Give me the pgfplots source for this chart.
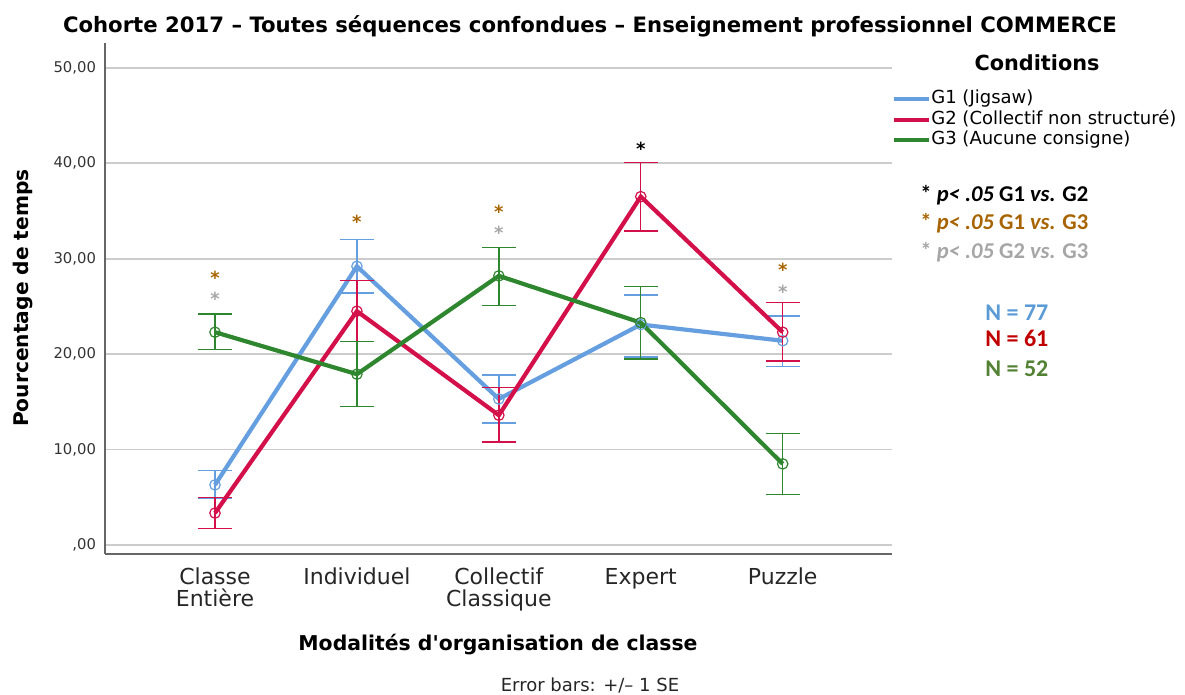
\documentclass[border=0pt]{standalone}
\usepackage{fontspec}
\setmainfont{DejaVu Sans}
\newfontfamily\calib{Carlito}
\usepackage{pgfplots}
\pgfplotsset{compat=1.18}

\definecolor{gone}{HTML}{659FDF}
\definecolor{gtwo}{HTML}{D3104A}
\definecolor{gthree}{HTML}{2E862E}
\definecolor{starorange}{HTML}{A86400}
\definecolor{stargray}{HTML}{A6A6A6}
\definecolor{nblue}{HTML}{5B9BD5}
\definecolor{nred}{HTML}{C00000}
\definecolor{ngreen}{HTML}{548235}

\pgfplotsset{
  grp/.style={
    #1, line width=2.1pt, mark=o, mark size=2.6pt,
    mark options={solid, line width=0.6pt, #1},
    error bars/.cd, y dir=both, y explicit,
    error bar style={line width=0.7pt, #1},
    error mark options={rotate=90, mark size=8.5pt, line width=0.7pt, #1},
    /pgfplots/.cd,
  },
}

\begin{document}
\begin{tikzpicture}
\path[use as bounding box] (0,0) rectangle (592.5pt,347.5pt);
\begin{axis}[
  at={(52.5pt,70.5pt)}, anchor=south west,
  width=393.5pt, height=255.5pt, scale only axis,
  xmin=0.225, xmax=5.77, ymin=-0.94, ymax=52.6,
  axis x line*=bottom, axis y line*=left,
  axis line style={draw=black!60, line width=0.6pt, -},
  xtick={1,2,3,4,5},
  xticklabels={{Classe\\Entière},Individuel,{Collectif\\Classique},Expert,Puzzle},
  xticklabel style={font=\fontsize{11}{11}\selectfont, align=center, text=black!85, yshift=-3.5pt},
  ytick={0,10,20,30,40,50},
  yticklabels={{,00},{10,00},{20,00},{30,00},{40,00},{50,00}},
  yticklabel style={font=\fontsize{7.4}{8}\selectfont, text=black!80, xshift=-1pt},
  major tick length=0pt,
  ymajorgrids, grid style={draw=black!20, line width=0.9pt},
  clip=false,
  legend style={at={(1.0,0.908)}, anchor=north west, draw=none, fill=none,
    font=\fontsize{9}{9}\selectfont, row sep=1.25pt, inner sep=0pt,
    nodes={inner xsep=0pt, inner ysep=0pt, text height=6.8pt, text depth=2.2pt}},
  legend cell align=left,
]
\addlegendimage{legend image code/.code={\draw[gone, line width=2pt] (0pt,0pt) -- (17.5pt,0pt);}}
\addlegendentry{G1 (Jigsaw)}
\addlegendimage{legend image code/.code={\draw[gtwo, line width=2pt] (0pt,0pt) -- (17.5pt,0pt);}}
\addlegendentry{G2 (Collectif non structuré)}
\addlegendimage{legend image code/.code={\draw[gthree, line width=2pt] (0pt,0pt) -- (17.5pt,0pt);}}
\addlegendentry{G3 (Aucune consigne)}

% G1 (Jigsaw)
\addplot[forget plot, grp=gone] coordinates {
  (1,6.3)  += (0,1.5) -= (0,1.45)
  (2,29.2) += (0,2.8) -= (0,2.8)
  (3,15.3) += (0,2.5) -= (0,2.5)
  (4,23.1) += (0,3.1) -= (0,3.4)
  (5,21.4) += (0,2.6) -= (0,2.7)
};
% G2 (Collectif non structure)
\addplot[forget plot, grp=gtwo] coordinates {
  (1,3.35) += (0,1.65) -= (0,1.65)
  (2,24.5) += (0,3.2) -= (0,3.2)
  (3,13.6) += (0,2.9) -= (0,2.8)
  (4,36.5) += (0,3.6) -= (0,3.6)
  (5,22.3) += (0,3.1) -= (0,3.0)
};
% G3 (Aucune consigne)
\addplot[forget plot, grp=gthree] coordinates {
  (1,22.3) += (0,1.9) -= (0,1.8)
  (2,17.9) += (0,3.4) -= (0,3.4)
  (3,28.2) += (0,3.0) -= (0,3.1)
  (4,23.3) += (0,3.8) -= (0,3.8)
  (5,8.5)  += (0,3.2) -= (0,3.2)
};

% significance stars (orange over grey in one node, anchored on the grey one)
\begin{scope}[every node/.style={font=\bfseries\fontsize{9}{10.8}\selectfont, inner sep=0pt, anchor=base, align=center, yshift=-5.4pt}]
\node at (axis cs:1,26.2) {\textcolor{starorange}{*}\\\textcolor{stargray}{*}};
\node[text=starorange] at (axis cs:2,34.3) {*};
\node at (axis cs:3,33.1) {\textcolor{starorange}{*}\\\textcolor{stargray}{*}};
\node[text=black]      at (axis cs:4,41.9) {*};
\node at (axis cs:5,27.0) {\textcolor{starorange}{*}\\\textcolor{stargray}{*}};
\end{scope}
\end{axis}

\begin{scope}[x=0.5pt, y=-0.5pt, shift={(0pt,347.5pt)}]
\node[anchor=base, font=\fontsize{10.6}{12}\selectfont\bfseries] at (590,33)
  {Cohorte 2017 – Toutes séquences confondues – Enseignement professionnel COMMERCE};
\node[anchor=base, font=\fontsize{10.4}{12}\selectfont\bfseries] at (1037,71) {Conditions};
\node[rotate=90, font=\fontsize{10.1}{12}\selectfont\bfseries] at (23,298) {Pourcentage de temps};
\node[anchor=base, font=\fontsize{10.2}{12}\selectfont\bfseries] at (498,651) {Modalités d\textquotesingle organisation de classe};
\node[anchor=base, font=\fontsize{9}{11}\selectfont, text=black!85] at (590,692) {Error bars: +/– 1 SE};

\begin{scope}[every node/.style={anchor=base west, inner sep=0pt, font=\calib\bfseries\fontsize{11.3}{12}\selectfont}]
\node[text=black]      at (920,201.5) {* \textit{p< .05} G1 \textit{vs.} G2};
\node[text=starorange] at (920,230)   {* \textit{p< .05} G1 \textit{vs.} G3};
\node[text=stargray]   at (920,259)   {* \textit{p< .05} G2 \textit{vs.} G3};
\end{scope}
\begin{scope}[every node/.style={anchor=base west, inner sep=0pt, font=\calib\bfseries\fontsize{12}{14}\selectfont}]
\node[text=nblue]  at (985,320.5) {N = 77};
\node[text=nred]   at (985,347)   {N = 61};
\node[text=ngreen] at (985,377)   {N = 52};
\end{scope}
\end{scope}
\end{tikzpicture}
\end{document}
